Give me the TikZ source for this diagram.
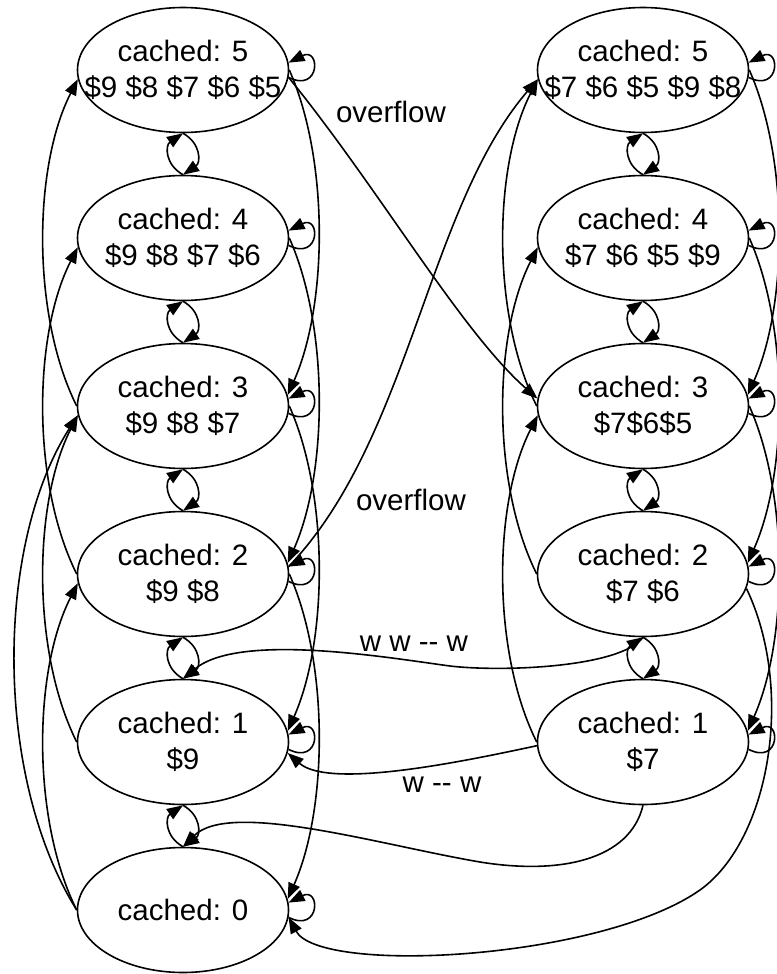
\documentclass[tikz,border=0pt]{standalone}
\usepackage{fontspec}
\setmainfont{Liberation Sans}
\usetikzlibrary{shapes.geometric,arrows.meta}
\begin{document}
\begin{tikzpicture}[x=1pt,y=-1pt,
  state/.style={ellipse,draw,line width=1.6pt,minimum width=211pt,minimum height=125pt,
    inner xsep=-80pt,inner ysep=-50pt,align=center,font=\fontsize{29.5}{36}\selectfont},
  e/.style={line width=1.6pt,-{Triangle[length=16pt,width=12pt]}},
  lab/.style={font=\fontsize{29.5}{36}\selectfont,inner sep=0pt}]
\useasboundingbox (0,0) rectangle (776,974);
% left column
\node[state] (L5) at (183,70)  {cached: 5\\\$9 \$8 \$7 \$6 \$5};
\node[state] (L4) at (183,238) {cached: 4\\\$9 \$8 \$7 \$6};
\node[state] (L3) at (183,406) {cached: 3\\\$9 \$8 \$7};
\node[state] (L2) at (183,574) {cached: 2\\\$9 \$8};
\node[state] (L1) at (183,742) {cached: 1\\\$9};
\node[state] (L0) at (183,910) {cached: 0};
% right column
\node[state] (R5) at (643,70)  {cached: 5\\\$7 \$6 \$5 \$9 \$8};
\node[state] (R4) at (643,238) {cached: 4\\\$7 \$6 \$5 \$9};
\node[state] (R3) at (643,406) {cached: 3\\\$7\$6\$5};
\node[state] (R2) at (643,574) {cached: 2\\\$7 \$6};
\node[state] (R1) at (643,742) {cached: 1\\\$7};
% labels
\node[lab] (o1) at (391,112) {overflow};
\node[lab] (o2) at (411,500) {overflow};
\node[lab] (w1) at (414,644) {w w -{}- w};
\node[lab] (w2) at (442,785) {w -{}- w};
% upward edges on the left side
\foreach \a/\b in {L3/L5,L2/L4,L1/L3,L0/L2,R3/R5,R2/R4,R1/R3}
  \draw[e] (\a.west) .. controls +(-45,-90) and +(-45,88) .. (\b.185);
\draw[e] (L0.west) .. controls +(-83,-133) and +(-83,130) .. (L3.185);
% downward edges on the right side
\foreach \a/\b in {L5/L3,L4/L2,L3/L1,L2/L0,R5/R3,R4/R2,R3/R1}
  \draw[e] (\a.east) .. controls +(40,90) and +(40,-90) .. (\b.6);
% self loops
\foreach \n in {L5,L4,L3,L2,L1,L0,R5,R4,R3,R2,R1}
  \draw[e] (\n.-4) .. controls +(32,16) and +(32,-16) .. (\n.4);
% neighbour pairs
\foreach \u/\d in {L5/L4,L4/L3,L3/L2,L2/L1,L1/L0,R5/R4,R4/R3,R3/R2,R2/R1} {
  \draw[e] (\d.north) .. controls +(-18,-10) and +(-18,12) .. (\u.south);
  \draw[e] (\u.south) .. controls +(18,10) and +(18,-12) .. (\d.north);
}
% cross edges
\draw[e] (L5.-4) .. controls (380,190) and (460,330) .. (R3.176);
\draw[e] (L2.4) .. controls (410,440) and (427,208) .. (R5.185);
\draw[e] (R2.south) .. controls (620,668) and (500,672) .. (450,666)
         .. controls (390,658) and (240,632) .. (L1.north);
\draw[e] (R1.182) .. controls (470,760) and (330,790) .. (L1.-6);
\draw[e] (R1.south) .. controls (630,860) and (560,875) .. (480,862)
         .. controls (380,845) and (230,800) .. (L0.north);
\draw[e] (R2.-8) .. controls (795,690) and (770,840) .. (700,890)
         .. controls (600,960) and (320,975) .. (L0.-4);
\end{tikzpicture}
\end{document}
